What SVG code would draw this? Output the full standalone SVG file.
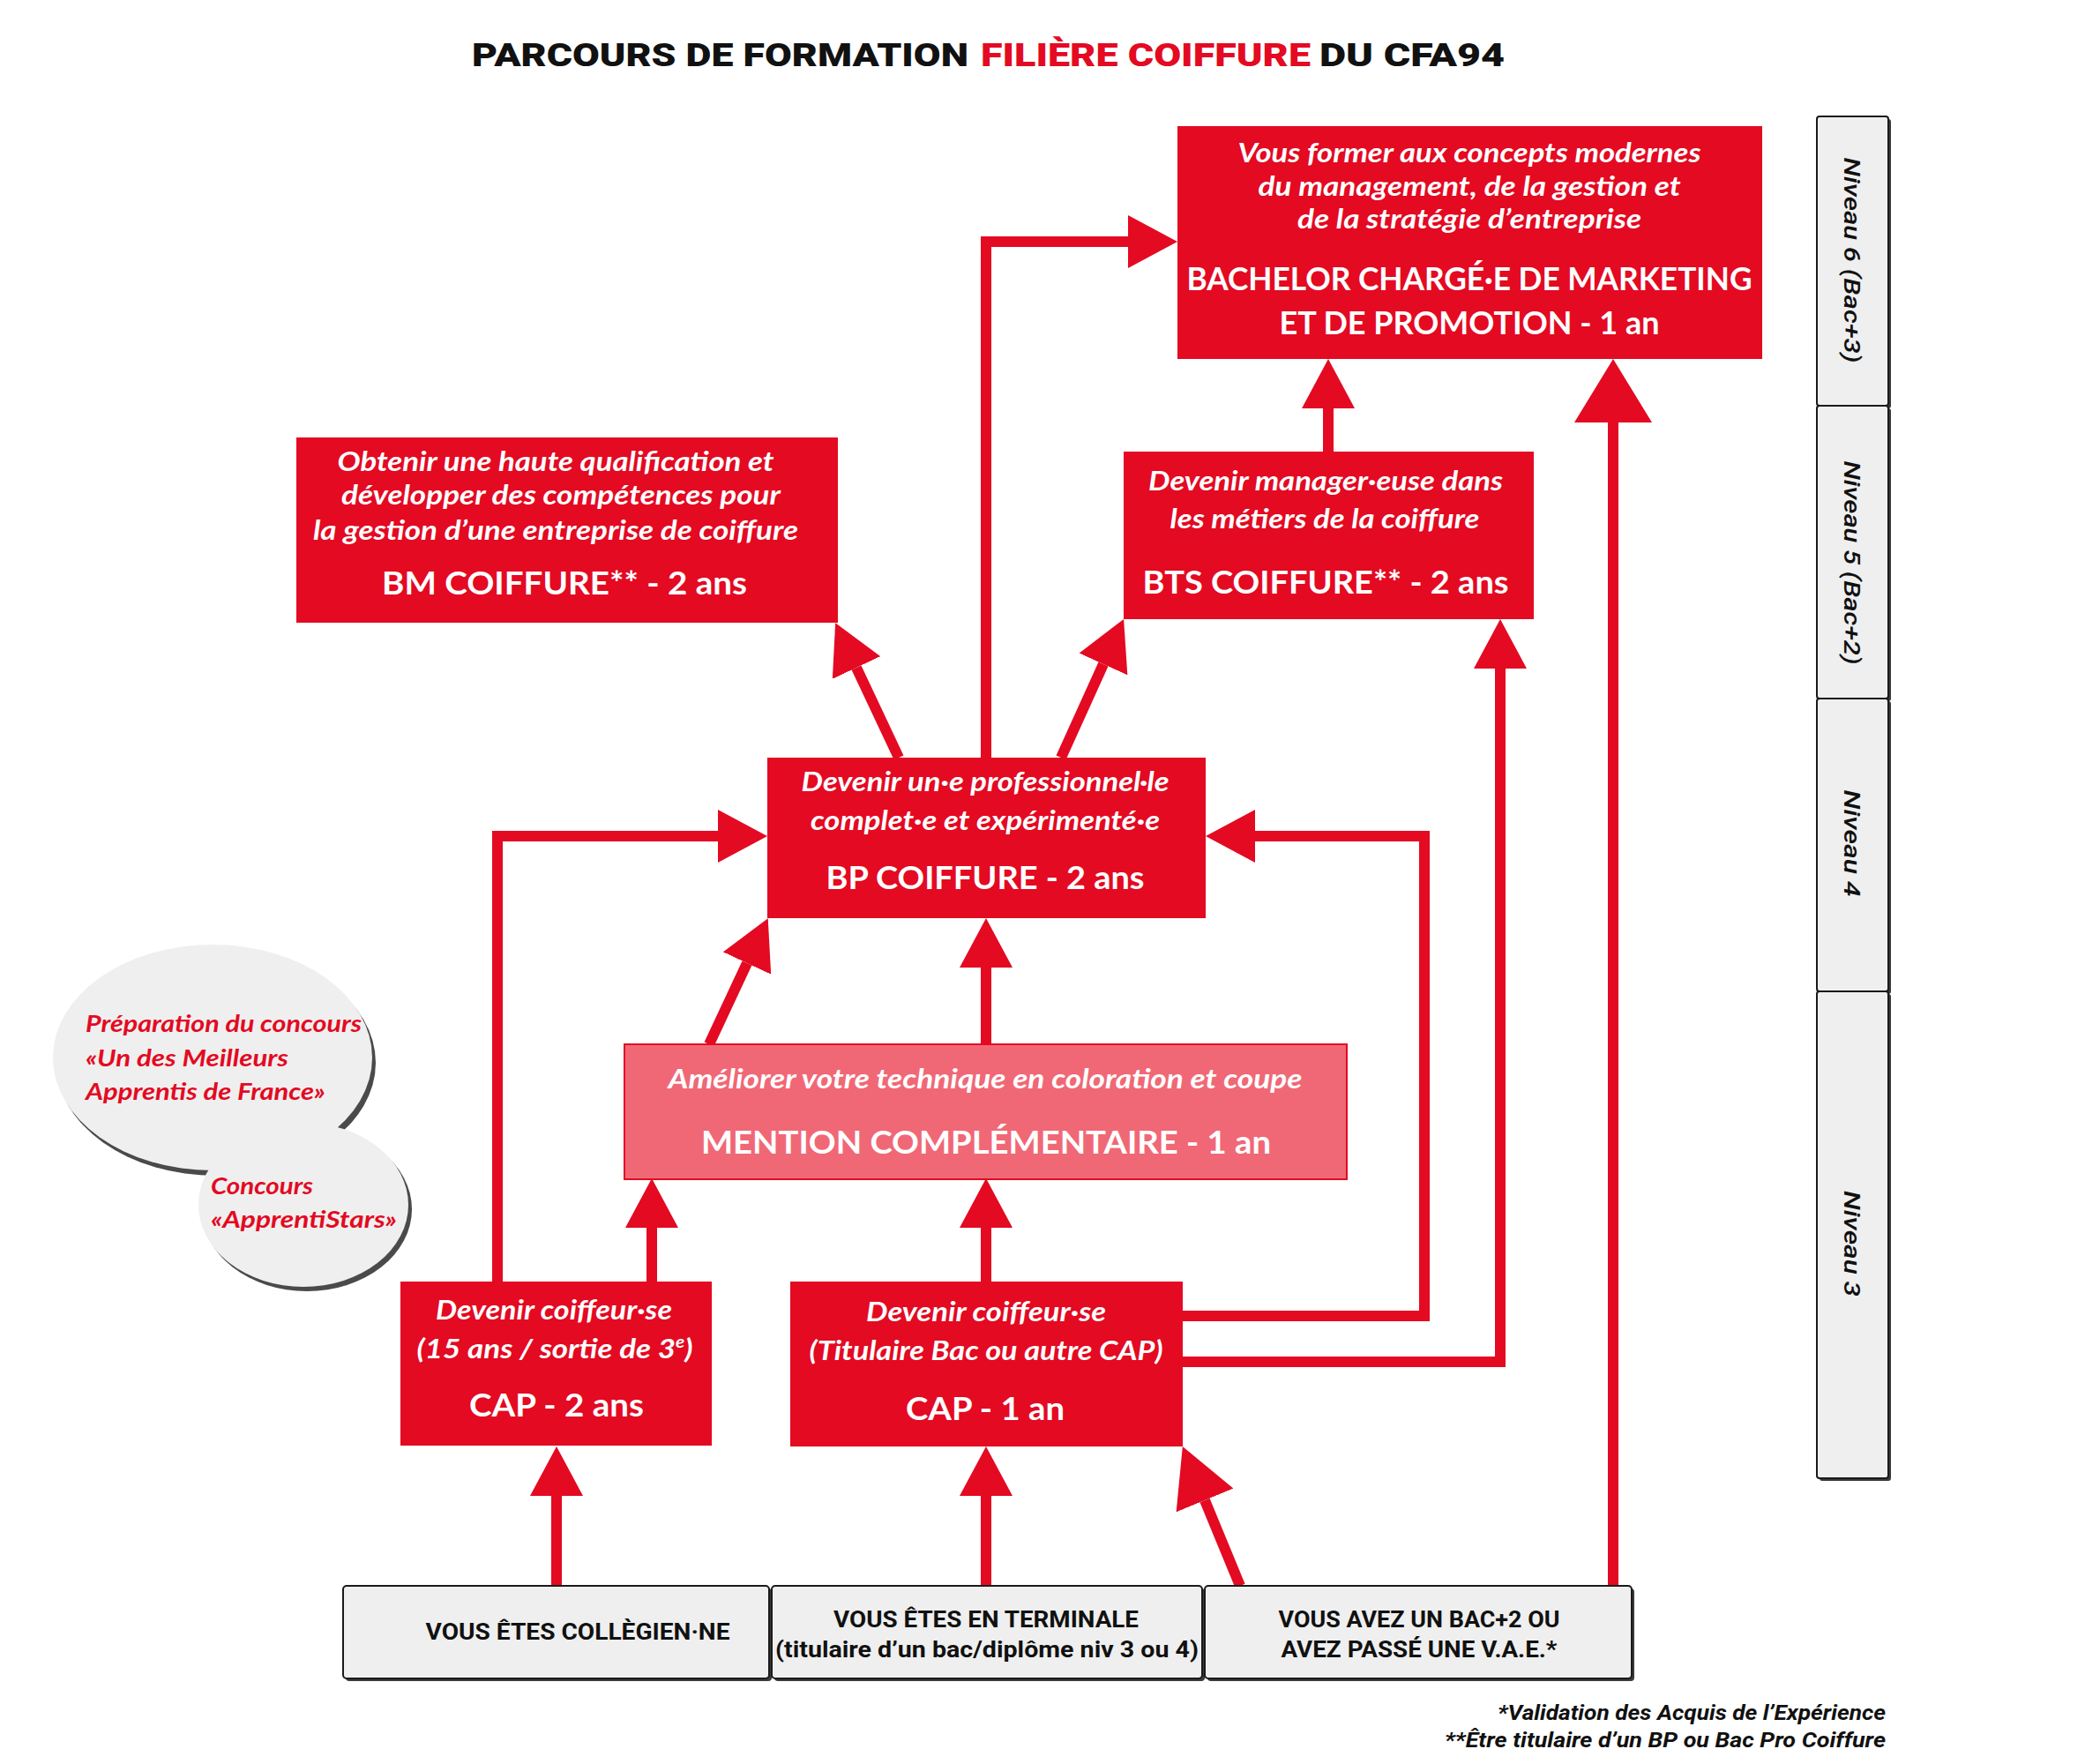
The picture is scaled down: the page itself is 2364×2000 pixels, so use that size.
<svg xmlns="http://www.w3.org/2000/svg" width="2364" height="2000" viewBox="0 0 2364 2000">
<style>
.box{fill:#E30A22}
.mc{fill:#F06876;stroke:#E30A22;stroke-width:2}
.gbox{fill:#EFEFEF;stroke:#1a1a1a;stroke-width:2}
.sh{fill:#3a3a3a}
.ell{fill:#EFEFEF}
.ellsh{fill:#4a4a4a}
.it{font-family:Lato,"Open Sans","Liberation Sans",sans-serif;font-style:italic;font-weight:700;fill:#fff;font-size:30px;text-anchor:middle}
.bd{font-family:Lato,"Open Sans","Liberation Sans",sans-serif;font-weight:700;fill:#fff;font-size:36px;text-anchor:middle}
.gt{font-family:Roboto,"Liberation Sans",sans-serif;font-weight:700;font-size:26px;fill:#111;text-anchor:middle}
.lv{font-family:Roboto,"Liberation Sans",sans-serif;font-style:italic;font-weight:500;font-size:26px;fill:#111;text-anchor:middle}
.fn{font-family:Roboto,"Liberation Sans",sans-serif;font-style:italic;font-weight:700;font-size:23px;fill:#111;text-anchor:end}
.et{font-family:Lato,"Open Sans","Liberation Sans",sans-serif;font-style:italic;font-weight:700;font-size:27px;fill:#E30A22}
.ttl{font-family:Roboto,"Liberation Sans",sans-serif;font-weight:900;font-size:37px}
.conn{fill:none;stroke:#E30A22;stroke-width:12;stroke-linejoin:miter}
</style>
<defs>
<marker id="ah" markerUnits="userSpaceOnUse" viewBox="0 0 56 60" markerWidth="56" markerHeight="60" refX="0" refY="30" orient="auto"><path d="M0,0 L56,30 L0,60 Z" fill="#E30A22"/></marker>
<marker id="ahM" markerUnits="userSpaceOnUse" viewBox="0 0 66 70" markerWidth="66" markerHeight="70" refX="0" refY="35" orient="auto"><path d="M0,0 L66,35 L0,70 Z" fill="#E30A22"/></marker>
<marker id="ahL" markerUnits="userSpaceOnUse" viewBox="0 0 72 88" markerWidth="72" markerHeight="88" refX="0" refY="44" orient="auto"><path d="M0,0 L72,44 L0,88 Z" fill="#E30A22"/></marker>
</defs>
<rect width="2364" height="2000" fill="#fff"/>

<g id="title">
<text class="ttl" x="535" y="75" fill="#111" textLength="563" lengthAdjust="spacingAndGlyphs">PARCOURS DE FORMATION</text>
<text class="ttl" x="1112" y="75" fill="#E30A22" textLength="374" lengthAdjust="spacingAndGlyphs">FILIÈRE COIFFURE</text>
<text class="ttl" x="1496" y="75" fill="#111" textLength="210" lengthAdjust="spacingAndGlyphs">DU CFA94</text>
</g>

<g id="connectors">
<path class="conn" d="M1118,859 V274 H1279" marker-end="url(#ah)"/>
<path class="conn" d="M1506,512 V463" marker-end="url(#ah)"/>
<path class="conn" d="M1829,1798 V479" marker-end="url(#ahL)"/>
<path class="conn" d="M1019,859 L971,757" marker-end="url(#ah)"/>
<path class="conn" d="M1203,859 L1251,753" marker-end="url(#ah)"/>
<path class="conn" d="M564,1453 V948 H814" marker-end="url(#ah)"/>
<path class="conn" d="M739,1453 V1392" marker-end="url(#ah)"/>
<path class="conn" d="M1118,1453 V1392" marker-end="url(#ah)"/>
<path class="conn" d="M1341,1492 H1615 V948 H1423" marker-end="url(#ah)"/>
<path class="conn" d="M1341,1544 H1701 V758" marker-end="url(#ah)"/>
<path class="conn" d="M804,1184 L847,1092" marker-end="url(#ah)"/>
<path class="conn" d="M1118,1184 V1097" marker-end="url(#ah)"/>
<path class="conn" d="M631,1798 V1696" marker-end="url(#ah)"/>
<path class="conn" d="M1118,1798 V1696" marker-end="url(#ah)"/>
<path class="conn" d="M1406,1798 L1366,1701" marker-end="url(#ahM)"/>
</g>

<g id="bachelor">
<rect class="box" x="1335" y="143" width="663" height="264"/>
<text class="it" x="1666" y="184" textLength="525" lengthAdjust="spacingAndGlyphs">Vous former aux concepts modernes</text>
<text class="it" x="1666" y="222" textLength="479" lengthAdjust="spacingAndGlyphs">du management, de la gestion et</text>
<text class="it" x="1666" y="259" textLength="390" lengthAdjust="spacingAndGlyphs">de la stratégie d’entreprise</text>
<text class="bd" x="1666" y="329" textLength="641" lengthAdjust="spacingAndGlyphs">BACHELOR CHARGÉ·E DE MARKETING</text>
<text class="bd" x="1666" y="379" textLength="431" lengthAdjust="spacingAndGlyphs">ET DE PROMOTION - 1 an</text>
</g>

<g id="bm">
<rect class="box" x="336" y="496" width="614" height="210"/>
<text class="it" x="630" y="534" textLength="495" lengthAdjust="spacingAndGlyphs">Obtenir une haute qualification et</text>
<text class="it" x="636" y="572" textLength="498" lengthAdjust="spacingAndGlyphs">développer des compétences pour</text>
<text class="it" x="630" y="612" textLength="550" lengthAdjust="spacingAndGlyphs">la gestion d’une entreprise de coiffure</text>
<text class="bd" x="640" y="674" textLength="414" lengthAdjust="spacingAndGlyphs">BM COIFFURE** - 2 ans</text>
</g>

<g id="bts">
<rect class="box" x="1274" y="512" width="465" height="190"/>
<text class="it" x="1503" y="556" textLength="402" lengthAdjust="spacingAndGlyphs">Devenir manager·euse dans</text>
<text class="it" x="1502" y="599" textLength="351" lengthAdjust="spacingAndGlyphs">les métiers de la coiffure</text>
<text class="bd" x="1503" y="673" textLength="415" lengthAdjust="spacingAndGlyphs">BTS COIFFURE** - 2 ans</text>
</g>

<g id="bp">
<rect class="box" x="870" y="859" width="497" height="182"/>
<text class="it" x="1117" y="897" textLength="417" lengthAdjust="spacingAndGlyphs">Devenir un·e professionnel·le</text>
<text class="it" x="1117" y="941" textLength="396" lengthAdjust="spacingAndGlyphs">complet·e et expérimenté·e</text>
<text class="bd" x="1117" y="1008" textLength="361" lengthAdjust="spacingAndGlyphs">BP COIFFURE - 2 ans</text>
</g>

<g id="mc">
<rect class="mc" x="708" y="1184" width="819" height="153"/>
<text class="it" x="1117" y="1234" textLength="719" lengthAdjust="spacingAndGlyphs">Améliorer votre technique en coloration et coupe</text>
<text class="bd" x="1118" y="1308" textLength="646" lengthAdjust="spacingAndGlyphs">MENTION COMPLÉMENTAIRE - 1 an</text>
</g>

<g id="cap2">
<rect class="box" x="454" y="1453" width="353" height="186"/>
<text class="it" x="628" y="1496" textLength="268" lengthAdjust="spacingAndGlyphs">Devenir coiffeur·se</text>
<text class="it" x="629" y="1540" textLength="313" lengthAdjust="spacingAndGlyphs">(15 ans / sortie de 3<tspan font-size="18" dy="-12">e</tspan><tspan dy="12">)</tspan></text>
<text class="bd" x="631" y="1606" textLength="198" lengthAdjust="spacingAndGlyphs">CAP - 2 ans</text>
</g>

<g id="cap1">
<rect class="box" x="896" y="1453" width="445" height="187"/>
<text class="it" x="1118" y="1498" textLength="272" lengthAdjust="spacingAndGlyphs">Devenir coiffeur·se</text>
<text class="it" x="1118" y="1542" textLength="401" lengthAdjust="spacingAndGlyphs">(Titulaire Bac ou autre CAP)</text>
<text class="bd" x="1117" y="1610" textLength="180" lengthAdjust="spacingAndGlyphs">CAP - 1 an</text>
</g>

<g id="collegien">
<rect class="sh" x="392" y="1801" width="483" height="105" rx="4"/>
<rect class="gbox" x="389" y="1798" width="483" height="105" rx="4"/>
<text class="gt" x="655" y="1859" textLength="345" lengthAdjust="spacingAndGlyphs">VOUS ÊTES COLLÈGIEN·NE</text>
</g>

<g id="terminale">
<rect class="sh" x="878" y="1801" width="488" height="105" rx="4"/>
<rect class="gbox" x="875" y="1798" width="488" height="105" rx="4"/>
<text class="gt" x="1118" y="1845" textLength="346" lengthAdjust="spacingAndGlyphs">VOUS ÊTES EN TERMINALE</text>
<text class="gt" x="1119" y="1879" textLength="480" lengthAdjust="spacingAndGlyphs">(titulaire d’un bac/diplôme niv 3 ou 4)</text>
</g>

<g id="vae">
<rect class="sh" x="1369" y="1801" width="484" height="105" rx="4"/>
<rect class="gbox" x="1366" y="1798" width="484" height="105" rx="4"/>
<text class="gt" x="1609" y="1845" textLength="319" lengthAdjust="spacingAndGlyphs">VOUS AVEZ UN BAC+2 OU</text>
<text class="gt" x="1609" y="1879" textLength="313" lengthAdjust="spacingAndGlyphs">AVEZ PASSÉ UNE V.A.E.*</text>
</g>

<g id="footnotes">
<text class="fn" x="2138" y="1950" textLength="440" lengthAdjust="spacingAndGlyphs">*Validation des Acquis de l’Expérience</text>
<text class="fn" x="2138" y="1981" textLength="500" lengthAdjust="spacingAndGlyphs">**Être titulaire d’un BP ou Bac Pro Coiffure</text>
</g>

<g id="niveau6">
<rect class="sh" x="2063" y="135" width="81" height="328" rx="3"/>
<rect class="gbox" x="2060" y="132" width="81" height="328" rx="3"/>
<text class="lv" transform="translate(2091,295) rotate(90)" textLength="233" lengthAdjust="spacingAndGlyphs">Niveau 6 (Bac+3)</text>
</g>
<g id="niveau5">
<rect class="sh" x="2063" y="463" width="81" height="332" rx="3"/>
<rect class="gbox" x="2060" y="460" width="81" height="332" rx="3"/>
<text class="lv" transform="translate(2091,638) rotate(90)" textLength="231" lengthAdjust="spacingAndGlyphs">Niveau 5 (Bac+2)</text>
</g>
<g id="niveau4">
<rect class="sh" x="2063" y="795" width="81" height="332" rx="3"/>
<rect class="gbox" x="2060" y="792" width="81" height="332" rx="3"/>
<text class="lv" transform="translate(2091,956) rotate(90)" textLength="121" lengthAdjust="spacingAndGlyphs">Niveau 4</text>
</g>
<g id="niveau3">
<rect class="sh" x="2063" y="1127" width="81" height="552" rx="3"/>
<rect class="gbox" x="2060" y="1124" width="81" height="552" rx="3"/>
<text class="lv" transform="translate(2091,1410) rotate(90)" textLength="120" lengthAdjust="spacingAndGlyphs">Niveau 3</text>
</g>

<g id="concours-maf">
<ellipse class="ellsh" cx="245" cy="1205" rx="181" ry="128"/>
<ellipse class="ell" cx="241" cy="1199" rx="181" ry="128"/>
<text class="et" x="97" y="1170" textLength="313" lengthAdjust="spacingAndGlyphs">Préparation du concours</text>
<text class="et" x="97" y="1209" textLength="230" lengthAdjust="spacingAndGlyphs">«Un des Meilleurs</text>
<text class="et" x="97" y="1247" textLength="272" lengthAdjust="spacingAndGlyphs">Apprentis de France»</text>
</g>
<g id="concours-apprentistars">
<ellipse class="ellsh" cx="348" cy="1371" rx="119" ry="93"/>
<ellipse class="ell" cx="344" cy="1366" rx="119" ry="93"/>
<text class="et" x="239" y="1354" textLength="116" lengthAdjust="spacingAndGlyphs">Concours</text>
<text class="et" x="239" y="1392" textLength="211" lengthAdjust="spacingAndGlyphs">«ApprentiStars»</text>
</g>
</svg>
